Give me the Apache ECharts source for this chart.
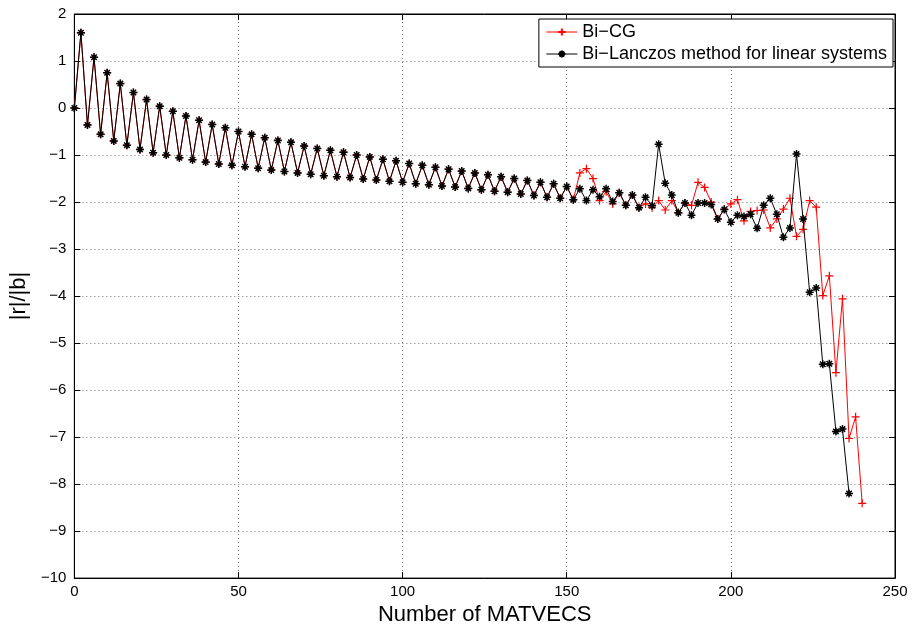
<!DOCTYPE html>
<html>
<head>
<meta charset="utf-8">
<script src="https://cdn.jsdelivr.net/npm/echarts@6/dist/echarts.min.js"></script>
<style>html,body{margin:0;padding:0;background:#fff}#c{width:912px;height:631px}</style>
</head>
<body>
<div id="c"></div>
<script>
// MATVEC counts (x values)
const matvecsBiCG = [0,2,4,6,8,10,12,14,16,18,20,22,24,26,28,30,32,34,36,38,40,42,44,46,48,50,52,54,56,58,60,62,64,66,68,70,72,74,76,78,80,82,84,86,88,90,92,94,96,98,100,102,104,106,108,110,112,114,116,118,120,122,124,126,128,130,132,134,136,138,140,142,144,146,148,150,152,154,156,158,160,162,164,166,168,170,172,174,176,178,180,182,184,186,188,190,192,194,196,198,200,202,204,206,208,210,212,214,216,218,220,222,224,226,228,230,232,234,236,238,240];
const matvecsLanczos = [0,2,4,6,8,10,12,14,16,18,20,22,24,26,28,30,32,34,36,38,40,42,44,46,48,50,52,54,56,58,60,62,64,66,68,70,72,74,76,78,80,82,84,86,88,90,92,94,96,98,100,102,104,106,108,110,112,114,116,118,120,122,124,126,128,130,132,134,136,138,140,142,144,146,148,150,152,154,156,158,160,162,164,166,168,170,172,174,176,178,180,182,184,186,188,190,192,194,196,198,200,202,204,206,208,210,212,214,216,218,220,222,224,226,228,230,232,234,236];

// log10 residual values
const residBiCG = [0,1.60,-0.36,1.08,-0.56,0.75,-0.70,0.52,-0.79,0.33,-0.88,0.18,-0.95,0.04,-1.00,-0.07,-1.06,-0.17,-1.10,-0.26,-1.15,-0.35,-1.19,-0.42,-1.22,-0.50,-1.25,-0.56,-1.28,-0.63,-1.32,-0.69,-1.35,-0.73,-1.38,-0.81,-1.41,-0.86,-1.44,-0.90,-1.46,-0.94,-1.48,-1.00,-1.51,-1.04,-1.53,-1.09,-1.56,-1.12,-1.58,-1.18,-1.61,-1.22,-1.63,-1.26,-1.66,-1.30,-1.68,-1.34,-1.71,-1.38,-1.74,-1.42,-1.77,-1.46,-1.79,-1.50,-1.83,-1.54,-1.86,-1.58,-1.90,-1.61,-1.92,-1.67,-1.95,
  -1.38,-1.29,-1.50,-1.97,-1.78,-2.04,-1.80,-2.07,-1.85,-2.12,-2.04,-2.12,-1.97,-2.17,-1.97,-2.23,-2.02,-2.07,-1.58,-1.69,-2.00,-2.36,-2.15,-2.04,-1.95,-2.40,-2.20,-2.18,-2.17,-2.55,-2.36,-2.15,-1.92,-2.73,-2.58,-1.97,-2.11,-3.99,-3.57,-5.63,-4.06,-7.03,-6.57,-8.41];
const residLanczos = [0,1.60,-0.36,1.08,-0.56,0.75,-0.70,0.52,-0.79,0.33,-0.88,0.18,-0.95,0.04,-1.00,-0.07,-1.06,-0.17,-1.10,-0.26,-1.15,-0.35,-1.19,-0.42,-1.22,-0.50,-1.25,-0.56,-1.28,-0.63,-1.32,-0.69,-1.35,-0.73,-1.38,-0.81,-1.41,-0.86,-1.44,-0.90,-1.46,-0.94,-1.48,-1.00,-1.51,-1.04,-1.53,-1.09,-1.56,-1.12,-1.58,-1.18,-1.61,-1.22,-1.63,-1.26,-1.66,-1.30,-1.68,-1.34,-1.71,-1.38,-1.74,-1.42,-1.77,-1.46,-1.79,-1.50,-1.83,-1.54,-1.86,-1.58,-1.90,-1.61,-1.92,-1.67,-1.95,
  -1.72,-1.97,-1.74,-1.89,-1.72,-1.99,-1.80,-2.07,-1.85,-2.12,-1.90,-2.08,-0.77,-1.60,-1.85,-2.23,-2.02,-2.28,-2.02,-2.02,-2.05,-2.36,-2.16,-2.43,-2.28,-2.31,-2.26,-2.56,-2.07,-1.92,-2.26,-2.75,-2.55,-0.98,-2.36,-3.92,-3.83,-5.45,-5.44,-6.88,-6.83,-8.20];

const seriesNames = ['Bi\u2212CG', 'Bi\u2212Lanczos method for linear systems'];
const xTicks = {min: 0, max: 250, interval: 50};
const yTicks = {min: -10, max: 2, interval: 1};

const FONT = 'Liberation Sans, Arial, Helvetica, sans-serif';
const plusPath = 'path://M5,0L5,10M0,5L10,5';
const starPath = 'path://M5,0L5,10M0,5L10,5M1.6,1.6L8.4,8.4M8.4,1.6L1.6,8.4';
const fmt = v => String(v).replace('-', '\u2212');

const chart = echarts.init(document.getElementById('c'), null, {renderer: 'canvas'});
const gridLine = {show: true, lineStyle: {color: '#777', type: [1, 3], width: 1}};
const axisBase = {
  axisLine: {show: true, onZero: false, lineStyle: {color: '#000', width: 1}},
  axisTick: {show: true, inside: true, length: 6, lineStyle: {color: '#000'}},
  minorTick: {show: false}
};
chart.setOption({
  animation: false,
  backgroundColor: '#fff',
  grid: {left: 71, right: 17, top: 14, bottom: 52, show: true, borderColor: '#000', borderWidth: 1, backgroundColor: 'transparent'},
  legend: {
    orient: 'vertical', right: 19, top: 19,
    backgroundColor: '#fff', borderColor: '#000', borderWidth: 1,
    padding: [4, 6, 4, 7], itemGap: 4, itemWidth: 31, itemHeight: 9,
    lineStyle: {width: 1},
    textStyle: {fontFamily: FONT, fontSize: 18, lineHeight: 18, color: '#000'},
    data: seriesNames
  },
  xAxis: [
    Object.assign({}, axisBase, {
      type: 'value', min: xTicks.min, max: xTicks.max, interval: xTicks.interval,
      name: 'Number of MATVECS', nameLocation: 'middle', nameGap: 25,
      nameTextStyle: {fontFamily: FONT, fontSize: 22, color: '#000'},
      axisLabel: {fontFamily: FONT, fontSize: 15, color: '#000', margin: 6, formatter: fmt},
      splitLine: gridLine
    }),
    Object.assign({}, axisBase, {
      type: 'value', position: 'top', min: xTicks.min, max: xTicks.max, interval: xTicks.interval,
      axisLabel: {show: false}, splitLine: {show: false}
    })
  ],
  yAxis: [
    Object.assign({}, axisBase, {
      type: 'value', min: yTicks.min, max: yTicks.max, interval: yTicks.interval,
      name: '|r|/|b|', nameLocation: 'middle', nameGap: 28,
      nameTextStyle: {fontFamily: FONT, fontSize: 22, color: '#000'},
      axisLabel: {fontFamily: FONT, fontSize: 15, color: '#000', margin: 8, formatter: fmt},
      splitLine: gridLine
    }),
    Object.assign({}, axisBase, {
      type: 'value', position: 'right', min: yTicks.min, max: yTicks.max, interval: yTicks.interval,
      axisLabel: {show: false}, splitLine: {show: false}
    })
  ],
  series: [
    {
      name: seriesNames[0], type: 'line',
      data: matvecsBiCG.map((x, i) => [x, residBiCG[i]]),
      symbol: plusPath, symbolSize: 8, showAllSymbol: true,
      lineStyle: {color: '#ff0000', width: 1},
      itemStyle: {color: '#ff0000', borderColor: '#ff0000', borderWidth: 1.2},
      z: 2
    },
    {
      name: seriesNames[1], type: 'line',
      data: matvecsLanczos.map((x, i) => [x, residLanczos[i]]),
      symbol: starPath, symbolSize: 8, showAllSymbol: true,
      lineStyle: {color: '#000', width: 1},
      itemStyle: {color: '#000', borderColor: '#000', borderWidth: 1.5},
      z: 3
    }
  ]
});
</script>
</body>
</html>
